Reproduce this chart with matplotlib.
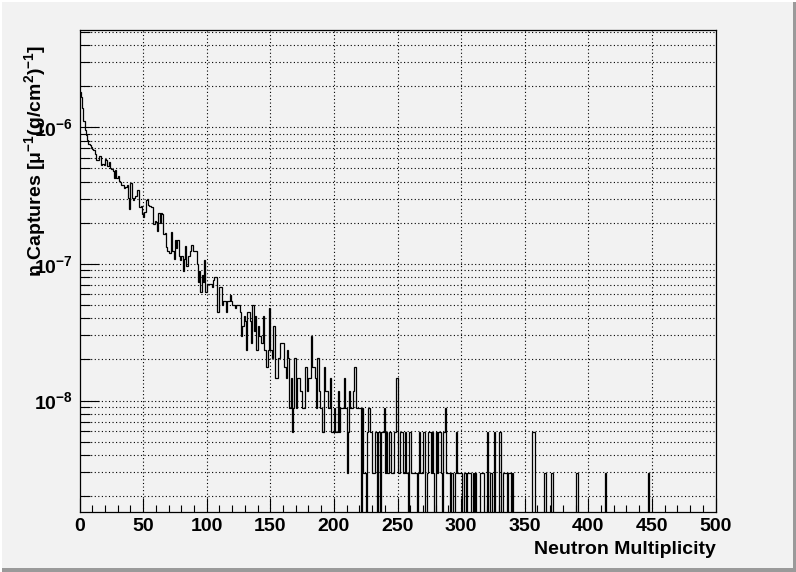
import numpy as np
import matplotlib
matplotlib.use("Agg")
import matplotlib.pyplot as plt
from matplotlib.patches import Rectangle
from matplotlib.ticker import FixedLocator, NullFormatter

# ---- data (counts per unit-wide bin, scaled by one-count weight) ----
unit_weight = 2.95e-9
head_counts = [
    610, 560, 470, 375, 325, 300, 275, 255, 250, 245,
    235, 230, 215, 195, 195, 210, 208, 180, 182, 180,
    198, 196, 178, 190, 172, 168, 162, 145, 165, 145,
    148, 137, 135, 128, 128, 122, 124, 128, 103, 86,
    133, 103, 100, 103, 106, 118, 118, 88, 90, 78,
    75, 82, 100, 102, 92, 90, 88, 88, 66, 70,
    69, 59, 80, 68, 80, 78, 56, 57, 45, 42,
    41, 41, 58, 42, 37, 51, 44, 51, 39, 36,
    39, 30, 37, 46, 33, 39, 39, 42, 47, 42,
    42, 42, 34, 25, 30, 21, 28, 25, 36, 21,
    24, 24, 24, 24, 23, 26, 27, 27, 15, 15,
    23, 23, 17, 18, 18, 15, 18, 18, 20, 18,
    17, 17, 16, 17, 17, 17, 15, 10, 12, 14,
    13, 8, 15, 15, 13, 9, 17, 11, 14, 8,
    12, 10, 10, 9, 14, 8, 8, 6, 8, 16,
    8, 7, 12, 12, 5, 5, 7, 7, 9, 9,
    9, 6, 5, 8, 7, 3, 5, 2, 3, 7,
    3, 5, 5, 4, 4, 3, 3, 6, 6, 4,
    5, 5, 10, 6, 6, 5, 3, 7, 4, 3,
    3, 2, 6, 4, 4, 3, 3, 5, 2, 2,
    3, 2, 2, 4, 2, 3, 3, 3, 5, 3,
    1, 2, 4, 3, 3, 4, 6, 3, 3, 3,
    3, 0, 3, 1, 1, 0, 2, 3, 2, 2,
    1, 1, 2, 2, 0, 2, 0, 2, 2, 3,
    1, 2, 1, 2, 2, 1, 1, 2, 2, 5,
    1, 1, 2, 2, 1, 1, 2, 1, 0, 2,
    2, 1, 1, 1, 1, 0, 1, 2, 1, 1,
    2, 2, 0, 1, 2, 2, 1, 2, 1, 0,
    2, 1, 2, 2, 1, 0, 2, 3, 1, 1,
    1, 0, 1, 1, 0, 1, 2, 1, 1, 1,
    1, 0, 1, 1, 0, 1, 1, 1, 0, 1,
    0, 1, 0, 0, 0, 1, 1, 1, 0, 0,
    2, 0, 0, 1, 0, 0, 2, 0, 0, 0,
    2, 0, 0, 1, 1, 1, 0, 1, 1, 0, 1,
]
tail_bins = [356, 357, 365, 366, 371, 390, 391, 413, 447]
tail_counts = [2, 2, 1, 1, 1, 1, 1, 1, 1]

x_min, x_max = 0, 500
y_min, y_max = 1.53e-9, 5.15e-6
x_major = [0, 50, 100, 150, 200, 250, 300, 350, 400, 450, 500]
y_major = [1e-8, 1e-7, 1e-6]
y_major_labels = ["10$^{-8}$", "10$^{-7}$", "10$^{-6}$"]
x_label = "Neutron Multiplicity"
y_label = "n Captures [\u03bc$^{-1}$(g/cm$^{2}$)$^{-1}$]"

counts = np.zeros(x_max - x_min)
counts[:len(head_counts)] = head_counts
for b, c in zip(tail_bins, tail_counts):
    counts[b] = c
values = counts * unit_weight
values = np.where(values > 0, values, 1e-15)   # empty bins drop off the log axis
edges = np.arange(x_min, x_max + 1)

# ---- style ----
plt.rcParams["font.family"] = ["Liberation Sans", "DejaVu Sans"]
plt.rcParams["font.weight"] = "bold"
plt.rcParams["mathtext.fontset"] = "custom"
plt.rcParams["mathtext.rm"] = "Liberation Sans:bold"
plt.rcParams["mathtext.it"] = "Liberation Sans:bold"
plt.rcParams["mathtext.bf"] = "Liberation Sans:bold"
plt.rcParams["mathtext.default"] = "rm"

bg = "#f2f2f2"
fig = plt.figure(figsize=(7.96, 5.72), dpi=100, facecolor=bg)
W, H = 796, 572
ax = fig.add_axes([79.5 / W, (H - 512) / H, (715.5 - 79.5) / W, (512 - 30) / H])
ax.set_facecolor(bg)

ax.stairs(values, edges, color="black", linewidth=0.9, baseline=None)

ax.set_yscale("log")
ax.set_xlim(x_min, x_max)
ax.set_ylim(y_min, y_max)

# x ticks
ax.xaxis.set_major_locator(FixedLocator(x_major))
ax.xaxis.set_minor_locator(FixedLocator(np.arange(0, 501, 10)))
ax.set_xticklabels([str(v) for v in x_major])
ax.tick_params(axis="x", which="major", direction="in", length=10, width=0.8,
               labelsize=14, pad=4, top=False)
ax.tick_params(axis="x", which="minor", direction="in", length=5, width=0.8, top=False)

# y ticks
minor_y = [m * 10.0 ** e for e in range(-9, -5) for m in range(2, 10)]
minor_y = [v for v in minor_y if y_min <= v <= y_max]
ax.yaxis.set_major_locator(FixedLocator(y_major))
ax.yaxis.set_minor_locator(FixedLocator(minor_y))
ax.yaxis.set_minor_formatter(NullFormatter())
ax.set_yticklabels(y_major_labels)
ax.tick_params(axis="y", which="major", direction="in", length=14, width=0.8,
               labelsize=14, pad=5, right=False)
ax.tick_params(axis="y", which="minor", direction="in", length=7, width=0.8, right=False)
for lab in ax.get_xticklabels() + ax.get_yticklabels():
    lab.set_fontweight("bold")

# grid (dotted)
for xv in x_major[1:-1]:
    ax.axvline(xv, color="black", linewidth=0.8, linestyle=(0, (1, 2.2)), zorder=0.5)
for yv in y_major + minor_y:
    ax.axhline(yv, color="black", linewidth=0.8, linestyle=(0, (1, 2.2)), zorder=0.5)

for sp in ax.spines.values():
    sp.set_linewidth(0.9)
    sp.set_color("black")

# titles
fig.text(716 / W, (H - 549) / H, x_label, ha="right", va="center",
         fontsize=14, fontweight="bold")
fig.text(35 / W, (H - 45) / H, y_label, rotation=90, rotation_mode="anchor",
         ha="right", va="center", fontsize=14, fontweight="bold")

# canvas bevel
fig.patches.append(Rectangle((0, 0), 1, 4 / H, transform=fig.transFigure,
                             facecolor="#9a9a9a", edgecolor="none"))
fig.patches.append(Rectangle((1 - 3 / W, 0), 3 / W, 1, transform=fig.transFigure,
                             facecolor="#9a9a9a", edgecolor="none"))
fig.patches.append(Rectangle((0, 1 - 2 / H), 1, 2 / H, transform=fig.transFigure,
                             facecolor="white", edgecolor="none"))
fig.patches.append(Rectangle((0, 0), 2 / W, 1, transform=fig.transFigure,
                             facecolor="white", edgecolor="none"))

fig.savefig("out.png", dpi=100, facecolor=bg)
